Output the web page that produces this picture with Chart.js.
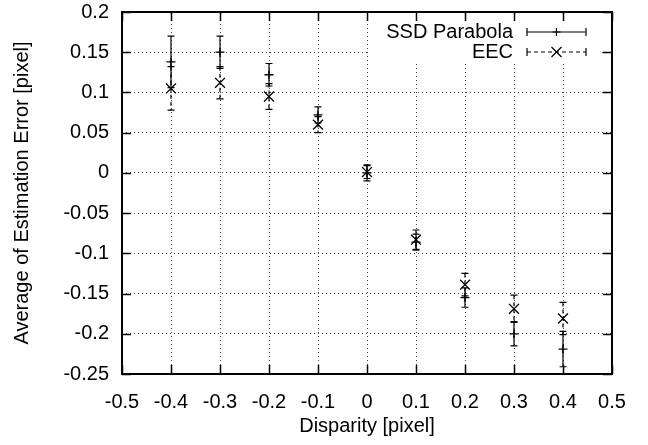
<!DOCTYPE html>
<html>
<head>
<meta charset="utf-8">
<script src="https://cdn.jsdelivr.net/npm/chart.js@4.4.1/dist/chart.umd.min.js"></script>
<style>
  html, body { margin: 0; padding: 0; background: #fff; }
  #wrap { width: 648px; height: 445px; }
</style>
</head>
<body>
<div id="wrap"><canvas id="errdiv"></canvas></div>
<script>
// data
var disparity = [-0.4, -0.3, -0.2, -0.1, 0, 0.1, 0.2, 0.3, 0.4];
var ssdMean = [0.138, 0.150, 0.122, 0.072, 0.000, -0.086, -0.155, -0.200, -0.219];
var ssdErr  = [0.032, 0.020, 0.014, 0.010, 0.010, 0.010, 0.012, 0.015, 0.022];
var eecMean = [0.105, 0.112, 0.095, 0.060, 0.001, -0.083, -0.139, -0.169, -0.181];
var eecErr  = [0.027, 0.020, 0.016, 0.010, 0.008, 0.012, 0.014, 0.017, 0.020];
var xTicks = [-0.5, -0.4, -0.3, -0.2, -0.1, 0, 0.1, 0.2, 0.3, 0.4, 0.5];
var yTicks = [-0.25, -0.2, -0.15, -0.1, -0.05, 0, 0.05, 0.1, 0.15, 0.2];

var FONT = '"Liberation Sans", Arial, Helvetica, sans-serif';

function points(ys) {
    return disparity.map(function (x, i) { return {x: x, y: ys[i]}; });
}

// errors per dataset index
var errs = [ssdErr, eecErr];
var dashes = [[], [4, 3]];

var gnuplotLook = {
    id: 'gnuplotLook',
    beforeDatasetsDraw: function (chart) {
        var ctx = chart.ctx, a = chart.chartArea;
        var xs = chart.scales.x, ys = chart.scales.y;
        ctx.save();
        // opaque key box (covers grid under the key)
        var kx = xs.getPixelForValue(0) + 1;
        ctx.fillStyle = '#fff';
        ctx.fillRect(kx, a.top, a.right - 12 - kx, ys.getPixelForValue(0.15) + 10 - a.top);
        // error bars
        ctx.strokeStyle = '#000';
        ctx.lineWidth = 1.2;
        chart.data.datasets.forEach(function (ds, di) {
            ds.data.forEach(function (p, i) {
                var px = xs.getPixelForValue(p.x);
                var top = ys.getPixelForValue(p.y + errs[di][i]);
                var bot = ys.getPixelForValue(p.y - errs[di][i]);
                ctx.setLineDash(dashes[di]);
                ctx.beginPath();
                ctx.moveTo(px, top); ctx.lineTo(px, bot);
                ctx.stroke();
                ctx.setLineDash([]);
                ctx.beginPath();
                ctx.moveTo(px - 3.5, top); ctx.lineTo(px + 3.5, top);
                ctx.moveTo(px - 3.5, bot); ctx.lineTo(px + 3.5, bot);
                ctx.stroke();
            });
        });
        ctx.restore();
    },
    afterDraw: function (chart) {
        var ctx = chart.ctx, a = chart.chartArea;
        var xs = chart.scales.x, ys = chart.scales.y;
        ctx.save();
        ctx.strokeStyle = '#000';
        // inward ticks on all four sides
        ctx.lineWidth = 1.5;
        ctx.beginPath();
        xTicks.forEach(function (v) {
            var px = Math.round(xs.getPixelForValue(v)) + 0.5;
            ctx.moveTo(px, a.bottom); ctx.lineTo(px, a.bottom - 9);
            ctx.moveTo(px, a.top); ctx.lineTo(px, a.top + 9);
        });
        yTicks.forEach(function (v) {
            var py = Math.round(ys.getPixelForValue(v)) + 0.5;
            ctx.moveTo(a.left, py); ctx.lineTo(a.left + 9, py);
            ctx.moveTo(a.right, py); ctx.lineTo(a.right - 9, py);
        });
        ctx.stroke();
        // frame
        ctx.lineWidth = 2;
        ctx.strokeRect(a.left, a.top, a.right - a.left, a.bottom - a.top);

        // key, gnuplot style
        ctx.font = '20px ' + FONT;
        ctx.fillStyle = '#000';
        ctx.textAlign = 'right';
        ctx.textBaseline = 'middle';
        var textRight = 513, x1 = 527, x2 = 586;
        chart.data.datasets.forEach(function (ds, di) {
            var y = a.top + 20 + di * 20;
            ctx.fillText(ds.label, textRight, y);
            ctx.lineWidth = 1.2;
            ctx.setLineDash(dashes[di]);
            ctx.beginPath();
            ctx.moveTo(x1, y); ctx.lineTo(x2, y);
            ctx.stroke();
            ctx.setLineDash([]);
            ctx.beginPath();
            ctx.moveTo(x1, y - 4); ctx.lineTo(x1, y + 4);
            ctx.moveTo(x2, y - 4); ctx.lineTo(x2, y + 4);
            var cx = (x1 + x2) / 2;
            if (ds.pointStyle === 'cross') {
                ctx.moveTo(cx - 4, y); ctx.lineTo(cx + 4, y);
                ctx.moveTo(cx, y - 4); ctx.lineTo(cx, y + 4);
            } else {
                ctx.moveTo(cx - 5, y - 5); ctx.lineTo(cx + 5, y + 5);
                ctx.moveTo(cx - 5, y + 5); ctx.lineTo(cx + 5, y - 5);
            }
            ctx.stroke();
        });
        ctx.restore();
    }
};

var chart = new Chart(document.getElementById('errdiv'), {
    type: 'scatter',
    plugins: [gnuplotLook],
    data: {
        datasets: [{
            label: 'SSD Parabola',
            data: points(ssdMean),
            pointStyle: 'cross',
            pointRadius: 4.5,
            borderColor: '#000',
            borderWidth: 1.3
        }, {
            label: 'EEC',
            data: points(eecMean),
            pointStyle: 'crossRot',
            pointRadius: 7,
            borderColor: '#000',
            borderWidth: 1.3
        }]
    },
    options: {
        responsive: true,
        maintainAspectRatio: false,
        animation: false,
        events: [],
        layout: { padding: { left: 0, top: 12, right: 36, bottom: 0 } },
        plugins: { legend: { display: false }, tooltip: { enabled: false } },
        scales: {
            x: {
                type: 'linear',
                min: -0.5, max: 0.5,
                afterBuildTicks: function (s) { s.ticks = xTicks.map(function (v) { return {value: v}; }); },
                afterFit: function (s) { s.height = 71; s.paddingLeft = 0; s.paddingRight = 0; },
                ticks: {
                    color: '#000', padding: 16, maxRotation: 0,
                    font: { family: FONT, size: 20 },
                    callback: function (v) { return String(v); }
                },
                grid: { color: '#444', lineWidth: 1, drawTicks: false },
                border: { display: false, dash: [1, 3] },
                title: {
                    display: true, text: 'Disparity [pixel]', color: '#000',
                    font: { family: FONT, size: 20 }, padding: { top: 0, bottom: 7 }
                }
            },
            y: {
                type: 'linear',
                min: -0.25, max: 0.2,
                afterBuildTicks: function (s) { s.ticks = yTicks.map(function (v) { return {value: v}; }); },
                afterFit: function (s) { s.width = 122; s.paddingTop = 0; s.paddingBottom = 0; },
                ticks: {
                    color: '#000', padding: 13,
                    font: { family: FONT, size: 20 },
                    callback: function (v) { return String(v); }
                },
                grid: { color: '#444', lineWidth: 1, drawTicks: false },
                border: { display: false, dash: [1, 3] },
                title: {
                    display: true, text: 'Average of Estimation Error [pixel]', color: '#000',
                    font: { family: FONT, size: 20 }, padding: { top: 10, bottom: 0 }
                }
            }
        }
    }
});
</script>
</body>
</html>
